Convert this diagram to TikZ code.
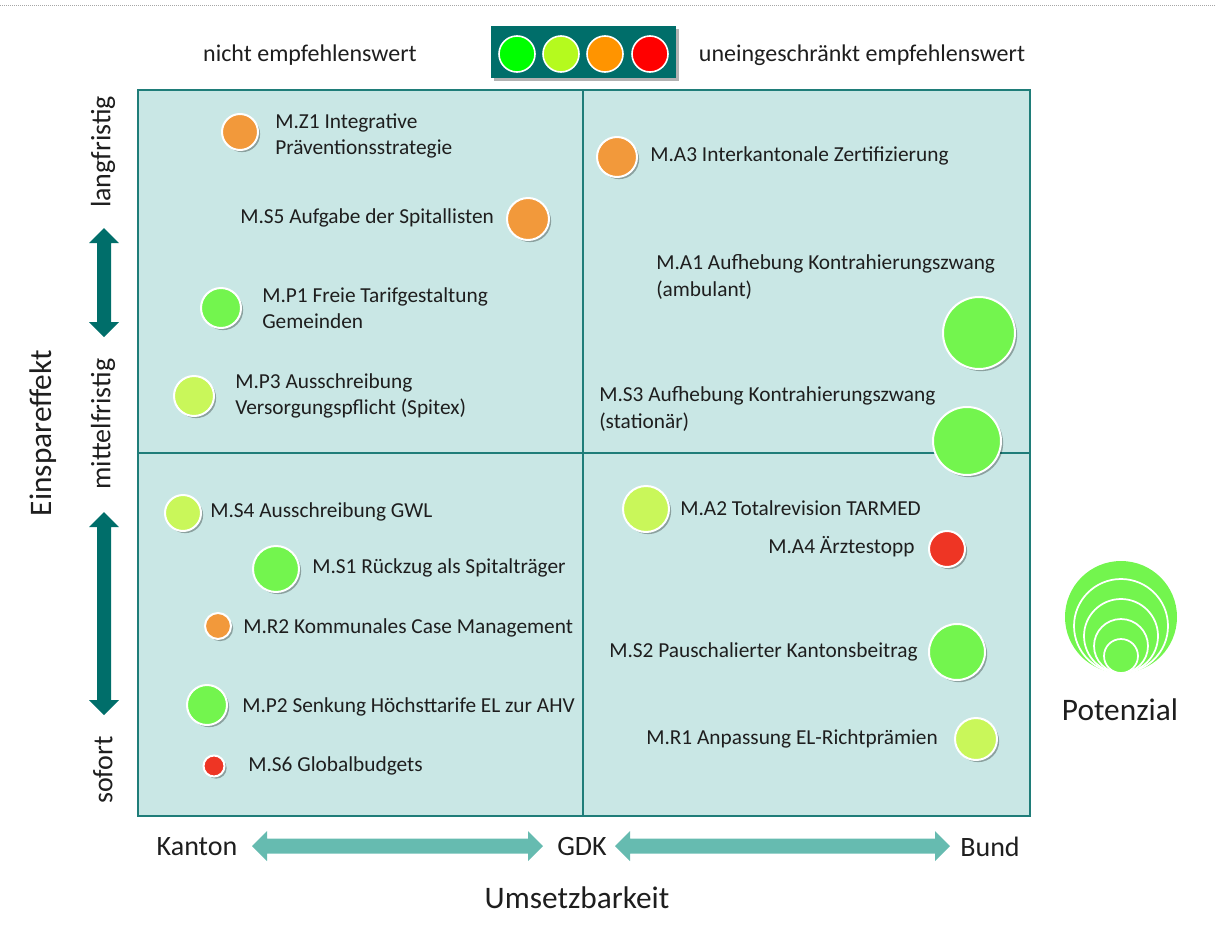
\documentclass[tikz,border=0pt]{standalone}
\usepackage{fontspec}
\setmainfont{Carlito}
\usetikzlibrary{shadows}

\definecolor{quadfill}{RGB}{201,231,229}
\definecolor{quadline}{RGB}{31,125,121}
\definecolor{darkteal}{RGB}{0,110,106}
\definecolor{lightteal}{RGB}{102,187,176}
\definecolor{bOrange}{RGB}{242,153,59}
\definecolor{bGreen}{RGB}{115,245,78}
\definecolor{bLime}{RGB}{201,247,90}
\definecolor{bRed}{RGB}{238,53,36}
\definecolor{lGreen}{RGB}{0,255,0}
\definecolor{lLime}{RGB}{181,250,30}
\definecolor{lOrange}{RGB}{255,148,0}
\definecolor{lRed}{RGB}{255,0,0}
\definecolor{txt}{RGB}{30,30,30}

% measure bubble: name, x, y, radius (px), colour
\newcommand\bub[5]{\node[bubble,fill=#5,minimum size=#4*1.5pt] (#1) at (#2,#3) {};}
% horizontal block arrow: colour, left tip, right tip, centre y
\newcommand\harrow[4]{%
  \fill[#1] (#2,#4) -- ({#2+15},{#4-15}) -- ({#2+15},{#4-7.5}) -- ({#3-15},{#4-7.5})
    -- ({#3-15},{#4-15}) -- (#3,#4) -- ({#3-15},{#4+15}) -- ({#3-15},{#4+7.5})
    -- ({#2+15},{#4+7.5}) -- ({#2+15},{#4+15}) -- cycle;}
% vertical block arrow: colour, centre x, top tip, bottom tip
\newcommand\varrow[4]{%
  \fill[#1] (#2,#3) -- ({#2+15},{#3+15}) -- ({#2+7},{#3+15}) -- ({#2+7},{#4-15})
    -- ({#2+15},{#4-15}) -- (#2,#4) -- ({#2-15},{#4-15}) -- ({#2-7},{#4-15})
    -- ({#2-7},{#3+15}) -- ({#2-15},{#3+15}) -- cycle;}

\begin{document}
\begin{tikzpicture}[x=0.75pt,y=-0.75pt,
  bubble/.style={circle,draw=white,line width=1.5pt,inner sep=0pt,
    drop shadow={shadow xshift=1.6pt,shadow yshift=-1.6pt,fill=black,opacity=0.3}},
  legdot/.style={circle,draw=white,line width=1.2pt,inner sep=0pt,minimum size=27pt},
  lbl/.style={font=\fontsize{16}{20}\selectfont,align=left,anchor=west,inner sep=0pt,text=txt},
  head/.style={font=\fontsize{18}{22}\selectfont,inner sep=0pt,text=txt},
  axlbl/.style={font=\fontsize{21}{25}\selectfont,inner sep=0pt,text=txt},
  big/.style={font=\fontsize{23.5}{28}\selectfont,inner sep=0pt,text=txt}]
\useasboundingbox (0,0) rectangle (1215,946);

% dotted rule along the top
\draw[gray!70,line width=0.6pt,dash pattern=on 0.75pt off 0.75pt] (0,5) -- (1215,5);

% legend of recommendation colours
\node[head] (nicht) at (310,55) {nicht empfehlenswert};
\node[head] (uneing) at (862,55) {uneingeschränkt empfehlenswert};
\fill[black,opacity=0.3] (494,29) rectangle (679,81);
\fill[darkteal] (491,26) rectangle (676,78);
\node[legdot,fill=lGreen] (l1) at (517,54) {};
\node[legdot,fill=lLime] (l2) at (561,54) {};
\node[legdot,fill=lOrange] (l3) at (605,54) {};
\node[legdot,fill=lRed] (l4) at (650,54) {};

% quadrant grid
\draw[quadline,line width=1.5pt,fill=quadfill] (138,90) rectangle (1030,816);
\draw[quadline,line width=1.5pt] (583,90) -- (583,816);
\draw[quadline,line width=1.5pt] (138,453) -- (1030,453);

% vertical axis
\node[axlbl,rotate=90] (lang) at (103,152) {langfristig};
\node[axlbl,rotate=90] (mittel) at (103,424) {mittelfristig};
\node[axlbl,rotate=90] (sofort) at (103,770) {sofort};
\node[big,rotate=90] (einsp) at (43,433) {Einspareffekt};
\varrow{darkteal}{104}{228}{337}
\varrow{darkteal}{104}{512}{715}

% horizontal axis
\node[axlbl] (kanton) at (197,847) {Kanton};
\node[axlbl] (gdk) at (582,847) {GDK};
\node[axlbl] (bund) at (990,847) {Bund};
\node[big] (umsetz) at (577,898) {Umsetzbarkeit};
\harrow{lightteal}{252}{543}{846}
\harrow{lightteal}{615}{950}{846}

% measures: upper left
\bub{mz1}{240}{132}{18}{bOrange}
\node[lbl] (tz1) at (275,136) {M.Z1 Integrative\\Präventionsstrategie};
\bub{ms5}{528}{219}{21}{bOrange}
\node[lbl] (ts5) at (240,218) {M.S5 Aufgabe der Spitallisten};
\bub{mp1}{221}{308}{20}{bGreen}
\node[lbl] (tp1) at (262,308) {M.P1 Freie Tarifgestaltung\\Gemeinden};
\bub{mp3}{194}{396}{20}{bLime}
\node[lbl] (tp3) at (235,396) {M.P3 Ausschreibung\\Versorgungspflicht (Spitex)};

% measures: upper right
\bub{ma3}{617}{157}{20}{bOrange}
\node[lbl] (ta3) at (650,156) {M.A3 Interkantonale Zertifizierung};
\node[lbl] (ta1) at (656,277) {M.A1 Aufhebung Kontrahierungszwang\\(ambulant)};
\bub{ma1}{979}{333}{36}{bGreen}
\node[lbl] (ts3) at (599,409) {M.S3 Aufhebung Kontrahierungszwang\\(stationär)};
\bub{ms3}{967}{441}{34}{bGreen}

% measures: lower left
\bub{ms4}{183}{513}{18}{bLime}
\node[lbl] (ts4) at (210,512) {M.S4 Ausschreibung GWL};
\bub{ms1}{276}{569}{23}{bGreen}
\node[lbl] (ts1) at (312,568) {M.S1 Rückzug als Spitalträger};
\bub{mr2}{218}{626}{13}{bOrange}
\node[lbl] (tr2) at (243,628) {M.R2 Kommunales Case Management};
\bub{mp2}{207}{705}{20}{bGreen}
\node[lbl] (tp2) at (242,707) {M.P2 Senkung Höchsttarife EL zur AHV};
\bub{ms6}{214}{766}{10.5}{bRed}
\node[lbl] (ts6) at (248,766) {M.S6 Globalbudgets};

% measures: lower right
\bub{ma2}{646}{509}{23}{bLime}
\node[lbl] (ta2) at (680,508) {M.A2 Totalrevision TARMED};
\bub{ma4}{947}{549}{18}{bRed}
\node[lbl] (ta4) at (768,547) {M.A4 Ärztestopp};
\bub{ms2}{957}{652}{28}{bGreen}
\node[lbl] (ts2) at (609,652) {M.S2 Pauschalierter Kantonsbeitrag};
\bub{mr1}{976}{739}{21}{bLime}
\node[lbl] (tr1) at (646,739) {M.R1 Anpassung EL-Richtprämien};

% size key
\fill[bGreen] (1121,617) circle (56);
\draw[white,line width=1.3pt,fill=bGreen] (1121,626) circle (47);
\draw[white,line width=1.3pt,fill=bGreen] (1121,636) circle (37);
\draw[white,line width=1.3pt,fill=bGreen] (1121,646) circle (27);
\draw[white,line width=1.3pt,fill=bGreen] (1121,656) circle (17);
\node[big] (potenz) at (1120,710) {Potenzial};
\end{tikzpicture}
\end{document}
